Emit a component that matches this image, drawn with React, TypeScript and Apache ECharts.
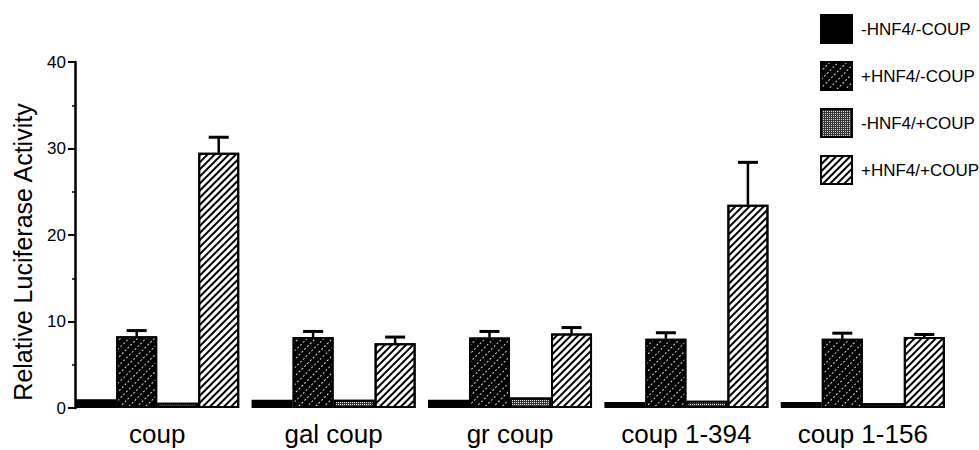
import React, { useEffect, useRef } from "react";
import * as echarts from "echarts";

const categories = ["coup", "gal coup", "gr coup", "coup 1-394", "coup 1-156"];
const seriesNames = ["-HNF4/-COUP", "+HNF4/-COUP", "-HNF4/+COUP", "+HNF4/+COUP"];
const noHnfNoCoup = [1.0, 0.95, 0.95, 0.7, 0.7];
const hnfNoCoup = [8.3, 8.2, 8.15, 8.0, 8.0];
const noHnfCoup = [0.6, 0.95, 1.2, 0.85, 0.55];
const hnfCoup = [29.5, 7.5, 8.6, 23.5, 8.2];
const hnfNoCoupErrTop = [8.95, 8.85, 8.85, 8.7, 8.65];
const hnfCoupErrTop = [31.3, 8.2, 9.3, 28.4, 8.5];
const yTicks = [0, 10, 20, 30, 40];

const CAT_GAP = 0.07;
const FONT = "'Liberation Sans', Arial, Helvetica, sans-serif";

function errSeries(k: number, vals: number[], tops: number[]) {
  return {
    type: "custom",
    name: "err" + k,
    z: 5,
    silent: true,
    data: vals.map((v, i) => [i, v, tops[i]]),
    renderItem: (params: any, api: any) => {
      const x = api.value(0);
      const v = api.value(1);
      const t = api.value(2);
      const base = api.coord([x, v]);
      const top = api.coord([x, t]);
      const band = api.size([1, 0])[0];
      const group = band * (1 - CAT_GAP);
      const bw = group / 4;
      const cx = base[0] - group / 2 + bw * (k + 0.5);
      return {
        type: "group",
        children: [
          {
            type: "line",
            shape: { x1: cx, y1: base[1], x2: cx, y2: top[1] },
            style: { stroke: "#000", lineWidth: 2.5 },
          },
          {
            type: "line",
            shape: { x1: cx - 10, y1: top[1], x2: cx + 10, y2: top[1] },
            style: { stroke: "#000", lineWidth: 3 },
          },
        ],
      };
    },
  };
}

export default function App() {
  const ref = useRef<HTMLDivElement>(null);
  useEffect(() => {
    if (!ref.current) return;
    const chart = echarts.init(ref.current, undefined, { renderer: "svg" });
    const border = { borderColor: "#000", borderWidth: 2 };
    const barBase = { type: "bar", barGap: "0%", barCategoryGap: CAT_GAP * 100 + "%" };
    chart.setOption({
      animation: false,
      backgroundColor: "#fff",
      textStyle: { fontFamily: FONT, color: "#000" },
      grid: { left: 69, right: 28, top: 62, bottom: 42, containLabel: false },
      legend: {
        data: seriesNames,
        orient: "vertical",
        left: 815,
        top: 9,
        itemWidth: 31,
        itemHeight: 28,
        itemGap: 17,
        icon: "rect",
        textStyle: { fontFamily: FONT, fontSize: 17, color: "#000", padding: [0, 0, 0, 4] },
        selectedMode: false,
      },
      xAxis: {
        type: "category",
        data: categories,
        axisLine: { show: false },
        axisTick: { show: false },
        axisLabel: { fontFamily: FONT, fontSize: 26, color: "#000", margin: 13 },
      },
      yAxis: {
        type: "value",
        min: yTicks[0],
        max: yTicks[yTicks.length - 1],
        interval: 10,
        offset: -6,
        name: "Relative Luciferase Activity",
        nameLocation: "middle",
        nameGap: 40,
        nameTextStyle: { fontFamily: FONT, fontSize: 25, color: "#000", padding: [0, 34, 0, 0] },
        axisLine: { show: true, lineStyle: { color: "#000", width: 2.5 } },
        axisTick: { show: true, length: 7, lineStyle: { color: "#000", width: 2 } },
        minorTick: { show: true, splitNumber: 2, length: 3, lineStyle: { color: "#000", width: 1.5 } },
        splitLine: { show: false },
        axisLabel: { fontFamily: FONT, fontSize: 17, color: "#000", margin: 9 },
      },
      series: [
        {
          ...barBase,
          name: seriesNames[0],
          data: noHnfNoCoup,
          itemStyle: { color: "#000", ...border },
        },
        {
          ...barBase,
          name: seriesNames[1],
          data: hnfNoCoup,
          itemStyle: {
            color: "#000",
            ...border,
            decal: {
              symbol: "rect",
              color: "rgba(255,255,255,0.85)",
              dashArrayX: [2, 2],
              dashArrayY: [1, 5],
              rotation: -Math.PI / 4,
            },
          },
        },
        {
          ...barBase,
          name: seriesNames[2],
          data: noHnfCoup,
          itemStyle: {
            color: "#333",
            ...border,
            decal: {
              symbol: "rect",
              color: "rgba(255,255,255,0.85)",
              symbolSize: 1,
              dashArrayX: [1, 1],
              dashArrayY: [1, 1],
              rotation: 0,
            },
          },
        },
        {
          ...barBase,
          name: seriesNames[3],
          data: hnfCoup,
          itemStyle: {
            color: "#fff",
            ...border,
            decal: {
              symbol: "rect",
              color: "#000",
              dashArrayX: [1, 0],
              dashArrayY: [2, 3],
              rotation: -Math.PI / 4,
            },
          },
        },
        errSeries(1, hnfNoCoup, hnfNoCoupErrTop),
        errSeries(3, hnfCoup, hnfCoupErrTop),
      ],
    });
    return () => chart.dispose();
  }, []);
  return (
    <div
      ref={ref}
      style={{ position: "fixed", left: 0, top: 0, width: 979, height: 450 }}
    />
  );
}
